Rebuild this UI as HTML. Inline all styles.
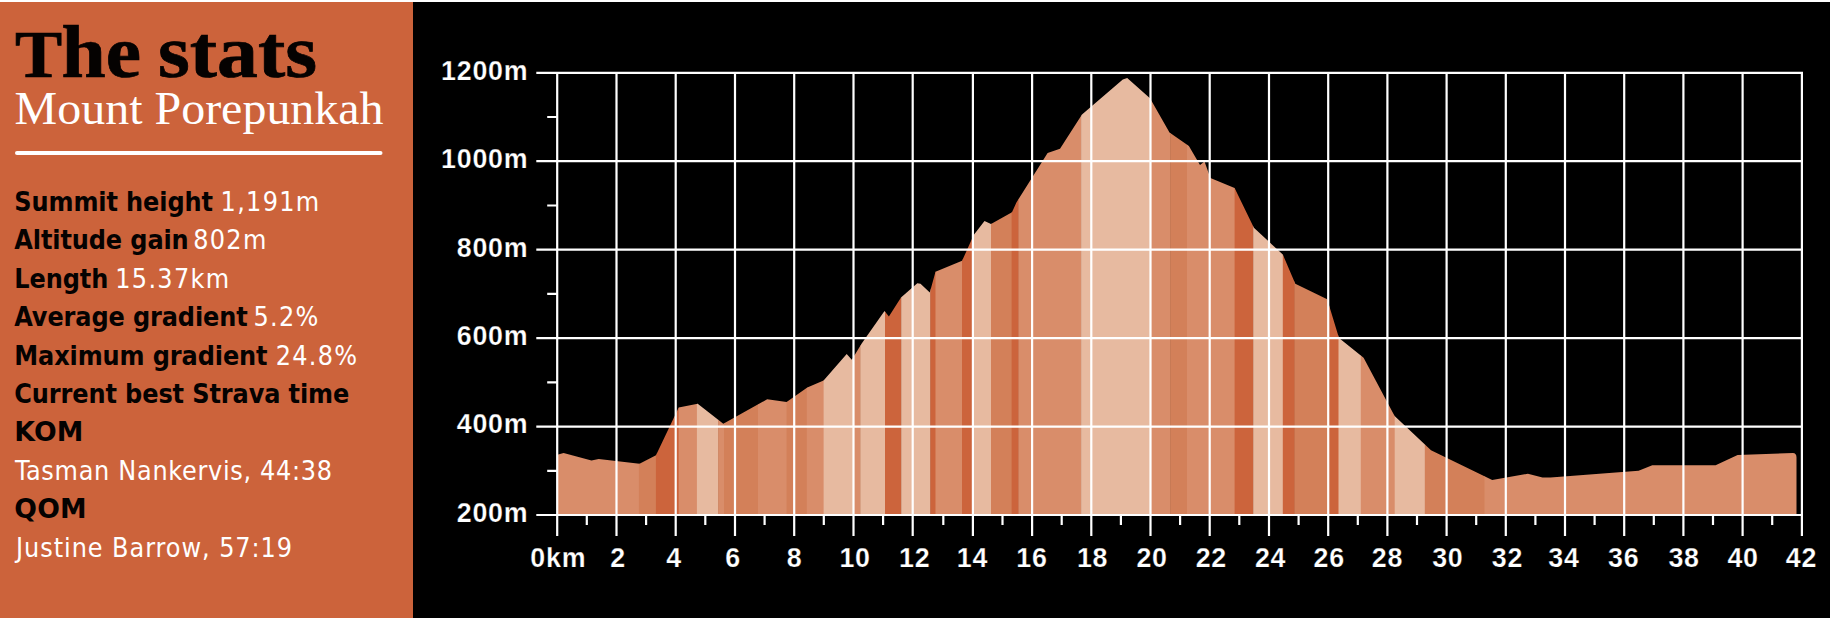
<!DOCTYPE html>
<html lang="en">
<head>
<meta charset="utf-8">
<title>The stats - Mount Porepunkah</title>
<style>
html,body{margin:0;padding:0;background:#fff;}
body{width:1834px;height:618px;overflow:hidden;position:relative;}
svg{position:absolute;left:0;top:0;display:block;}
.sans{font-family:"Liberation Sans",sans-serif;}
.serif{font-family:"Liberation Serif",serif;}
.ax{font-family:"Liberation Sans",sans-serif;font-weight:bold;font-size:26.8px;fill:#fff;letter-spacing:0.75px;stroke:#000;stroke-width:0.25px;}
.st{font-family:"DejaVu Sans Condensed","DejaVu Sans","Liberation Sans",sans-serif;font-stretch:condensed;font-size:26.7px;}
.b{font-weight:bold;fill:#050201;letter-spacing:-0.1px;}
.c{font-family:"DejaVu Sans","Liberation Sans",sans-serif;font-stretch:normal;letter-spacing:0.2px;}
.r{fill:#fff;letter-spacing:1.3px;}
.n{letter-spacing:0.7px;}
.j{letter-spacing:0.95px;}
</style>
</head>
<body>
<svg width="1834" height="618" viewBox="0 0 1834 618">
<rect x="0" y="2" width="413" height="616" fill="#cc633b"/>
<rect x="413" y="2" width="1417" height="616" fill="#000"/>
<text class="serif" y="76.8" font-size="74" font-weight="bold" fill="#050201" stroke="#050201" stroke-width="0.7"><tspan x="15" font-size="67" textLength="47.2" lengthAdjust="spacingAndGlyphs">T</tspan><tspan x="61.5" textLength="79.5" lengthAdjust="spacingAndGlyphs">he</tspan><tspan> </tspan><tspan x="158" textLength="159" lengthAdjust="spacingAndGlyphs">stats</tspan></text>
<text class="serif" x="14.6" y="123.6" font-size="46.5" fill="#fff" textLength="369" lengthAdjust="spacingAndGlyphs">Mount Porepunkah</text>
<line x1="17" y1="153" x2="380.5" y2="153" stroke="#fff" stroke-width="4" stroke-linecap="round"/>
<text class="st" x="14.3" y="210.8"><tspan class="b">Summit height </tspan><tspan class="r" x="220.6">1,191m</tspan></text>
<text class="st" x="14.3" y="249.2"><tspan class="b">Altitude gain </tspan><tspan class="r" x="193.2">802m</tspan></text>
<text class="st" x="14.3" y="287.7"><tspan class="b">Length </tspan><tspan class="r" x="115.3">15.37km</tspan></text>
<text class="st" x="14.3" y="326.1"><tspan class="b">Average gradient </tspan><tspan class="r" x="253.4">5.2%</tspan></text>
<text class="st" x="14.3" y="364.5"><tspan class="b">Maximum gradient </tspan><tspan class="r" x="275.7">24.8%</tspan></text>
<text class="st" x="14.3" y="403.0"><tspan class="b">Current best Strava time</tspan></text>
<text class="st" x="14.3" y="441.4"><tspan class="b c">KOM</tspan></text>
<text class="st" x="14.3" y="479.8"><tspan class="r n" x="15">Tasman Nankervis, 44:38</tspan></text>
<text class="st" x="14.3" y="518.2"><tspan class="b c">QOM</tspan></text>
<text class="st" x="14.3" y="556.7"><tspan class="r j" x="16">Justine Barrow, 57:19</tspan></text>
<defs><clipPath id="prof"><path d="M557.3 515.0 L557.3 454.8 L563.6 453.0 L591.5 460.4 L598.7 459.0 L639.5 463.8 L656.0 455.2 L678.7 407.6 L697.7 403.8 L723.3 423.7 L767.2 399.3 L786.6 401.9 L807.3 387.4 L823.6 380.4 L846.7 354.0 L851.8 359.7 L861.7 343.4 L884.5 311.0 L888.9 316.4 L901.0 297.5 L917.3 283.3 L920.5 283.8 L929.8 292.4 L935.5 271.7 L962.1 260.8 L973.7 234.9 L984.5 221.1 L991.0 224.0 L1012.0 212.3 L1016.4 202.5 L1047.6 153.0 L1060.0 148.7 L1082.0 114.4 L1122.8 79.4 L1127.2 78.1 L1150.0 98.3 L1169.5 132.5 L1188.9 146.0 L1200.0 164.9 L1204.5 161.5 L1210.4 178.0 L1234.6 188.0 L1253.9 227.8 L1282.8 254.5 L1295.3 283.8 L1327.2 299.2 L1339.0 338.0 L1363.6 357.8 L1394.6 416.0 L1431.0 450.3 L1492.2 480.0 L1527.9 473.7 L1542.5 477.6 L1550.5 477.6 L1638.6 470.8 L1652.3 465.2 L1715.6 465.2 L1737.6 455.0 L1792.9 453.0 Q1796.5 453 1796.5 457.5 L1796.5 515.0 Z"/></clipPath></defs>
<g clip-path="url(#prof)">
<rect x="557.3" y="70" width="82.1" height="450" fill="#d98d6a"/>
<rect x="638.9" y="70" width="17.5" height="450" fill="#d38059"/>
<rect x="655.9" y="70" width="23.3" height="450" fill="#cc643c"/>
<rect x="678.7" y="70" width="18.7" height="450" fill="#d98d6a"/>
<rect x="696.9" y="70" width="21.7" height="450" fill="#e7baa0"/>
<rect x="718.1" y="70" width="6.4" height="450" fill="#d98d6a"/>
<rect x="724.0" y="70" width="34.5" height="450" fill="#d38059"/>
<rect x="758.0" y="70" width="29.1" height="450" fill="#d98d6a"/>
<rect x="786.6" y="70" width="20.7" height="450" fill="#d38059"/>
<rect x="806.8" y="70" width="17.3" height="450" fill="#d98d6a"/>
<rect x="823.6" y="70" width="30.9" height="450" fill="#e7baa0"/>
<rect x="854.0" y="70" width="6.9" height="450" fill="#d98d6a"/>
<rect x="860.4" y="70" width="25.1" height="450" fill="#e7baa0"/>
<rect x="885.0" y="70" width="16.7" height="450" fill="#cc643c"/>
<rect x="901.2" y="70" width="29.6" height="450" fill="#e7baa0"/>
<rect x="930.3" y="70" width="5.7" height="450" fill="#cc643c"/>
<rect x="935.5" y="70" width="27.0" height="450" fill="#d98d6a"/>
<rect x="962.0" y="70" width="10.9" height="450" fill="#cc643c"/>
<rect x="972.4" y="70" width="19.1" height="450" fill="#e7baa0"/>
<rect x="991.0" y="70" width="21.1" height="450" fill="#d38059"/>
<rect x="1011.6" y="70" width="7.3" height="450" fill="#cc643c"/>
<rect x="1018.4" y="70" width="63.2" height="450" fill="#d98d6a"/>
<rect x="1081.1" y="70" width="69.9" height="450" fill="#e7baa0"/>
<rect x="1150.5" y="70" width="20.2" height="450" fill="#d98d6a"/>
<rect x="1170.2" y="70" width="17.3" height="450" fill="#d38059"/>
<rect x="1187.0" y="70" width="48.1" height="450" fill="#d98d6a"/>
<rect x="1234.6" y="70" width="19.1" height="450" fill="#cc643c"/>
<rect x="1253.2" y="70" width="30.1" height="450" fill="#e7baa0"/>
<rect x="1282.8" y="70" width="12.1" height="450" fill="#cc643c"/>
<rect x="1294.4" y="70" width="35.5" height="450" fill="#d38059"/>
<rect x="1329.4" y="70" width="9.6" height="450" fill="#cc643c"/>
<rect x="1338.5" y="70" width="22.8" height="450" fill="#e7baa0"/>
<rect x="1360.8" y="70" width="34.4" height="450" fill="#d98d6a"/>
<rect x="1394.7" y="70" width="30.6" height="450" fill="#e7baa0"/>
<rect x="1424.8" y="70" width="60.2" height="450" fill="#d38059"/>
<rect x="1484.5" y="70" width="313.0" height="450" fill="#d98d6a"/>
</g>
<path d="M557.2 71.8 V536.0 M616.5 71.8 V536.0 M675.7 71.8 V536.0 M735.0 71.8 V536.0 M794.2 71.8 V536.0 M853.5 71.8 V536.0 M912.7 71.8 V536.0 M972.9 71.8 V536.0 M1032.1 71.8 V536.0 M1091.3 71.8 V536.0 M1150.5 71.8 V536.0 M1209.7 71.8 V536.0 M1269.0 71.8 V536.0 M1328.2 71.8 V536.0 M1387.4 71.8 V536.0 M1446.6 71.8 V536.0 M1505.8 71.8 V536.0 M1565.0 71.8 V536.0 M1624.2 71.8 V536.0 M1683.4 71.8 V536.0 M1742.6 71.8 V536.0 M1801.9 71.8 V536.0 M586.8 515.0 V525.0 M646.1 515.0 V525.0 M705.3 515.0 V525.0 M764.6 515.0 V525.0 M823.8 515.0 V525.0 M883.1 515.0 V525.0 M943.3 515.0 V525.0 M1002.5 515.0 V525.0 M1061.7 515.0 V525.0 M1120.9 515.0 V525.0 M1180.1 515.0 V525.0 M1239.3 515.0 V525.0 M1298.6 515.0 V525.0 M1357.8 515.0 V525.0 M1417.0 515.0 V525.0 M1476.2 515.0 V525.0 M1535.4 515.0 V525.0 M1594.6 515.0 V525.0 M1653.8 515.0 V525.0 M1713.0 515.0 V525.0 M1772.2 515.0 V525.0 M536.3 515.0 H1802.9 M536.3 426.6 H1802.9 M536.3 338.1 H1802.9 M536.3 249.7 H1802.9 M536.3 161.2 H1802.9 M536.3 72.8 H1802.9 M547.2 470.8 H557.2 M547.2 382.3 H557.2 M547.2 293.9 H557.2 M547.2 205.5 H557.2 M547.2 117.0 H557.2" stroke="#fff" stroke-width="2.2" fill="none"/>
<text class="ax" x="528.3" y="521.8" text-anchor="end">200m</text>
<text class="ax" x="528.3" y="433.4" text-anchor="end">400m</text>
<text class="ax" x="528.3" y="344.9" text-anchor="end">600m</text>
<text class="ax" x="528.3" y="256.5" text-anchor="end">800m</text>
<text class="ax" x="528.3" y="168.0" text-anchor="end">1000m</text>
<text class="ax" x="528.3" y="79.6" text-anchor="end">1200m</text>
<text class="ax" x="558.3" y="566.5" text-anchor="middle">0km</text>
<text class="ax" x="618.1" y="566.5" text-anchor="middle">2</text>
<text class="ax" x="674.0" y="566.5" text-anchor="middle">4</text>
<text class="ax" x="733.2" y="566.5" text-anchor="middle">6</text>
<text class="ax" x="794.5" y="566.5" text-anchor="middle">8</text>
<text class="ax" x="855.1" y="566.5" text-anchor="middle">10</text>
<text class="ax" x="914.7" y="566.5" text-anchor="middle">12</text>
<text class="ax" x="972.5" y="566.5" text-anchor="middle">14</text>
<text class="ax" x="1031.9" y="566.5" text-anchor="middle">16</text>
<text class="ax" x="1092.6" y="566.5" text-anchor="middle">18</text>
<text class="ax" x="1152.1" y="566.5" text-anchor="middle">20</text>
<text class="ax" x="1211.3" y="566.5" text-anchor="middle">22</text>
<text class="ax" x="1270.6" y="566.5" text-anchor="middle">24</text>
<text class="ax" x="1329.2" y="566.5" text-anchor="middle">26</text>
<text class="ax" x="1387.4" y="566.5" text-anchor="middle">28</text>
<text class="ax" x="1447.8" y="566.5" text-anchor="middle">30</text>
<text class="ax" x="1507.4" y="566.5" text-anchor="middle">32</text>
<text class="ax" x="1563.9" y="566.5" text-anchor="middle">34</text>
<text class="ax" x="1623.7" y="566.5" text-anchor="middle">36</text>
<text class="ax" x="1684.1" y="566.5" text-anchor="middle">38</text>
<text class="ax" x="1743.1" y="566.5" text-anchor="middle">40</text>
<text class="ax" x="1801.5" y="566.5" text-anchor="middle">42</text>
</svg>
</body>
</html>
